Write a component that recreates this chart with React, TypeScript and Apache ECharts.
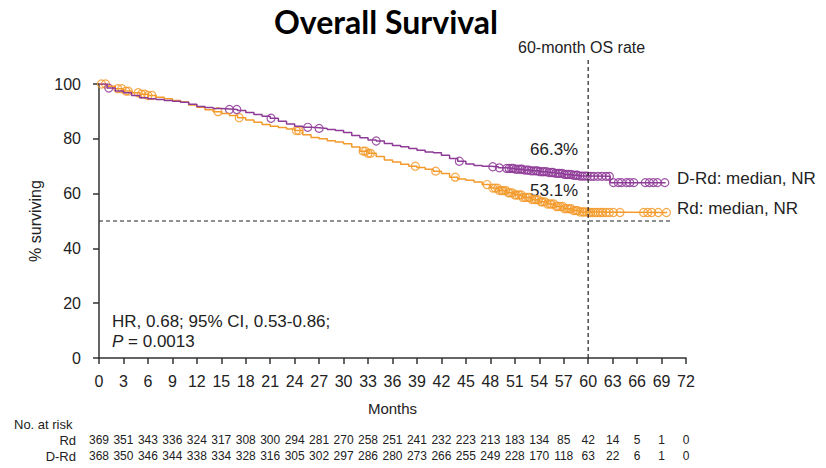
import React, { useEffect, useRef } from "react";
import * as echarts from "echarts";

// ---- Data ----
const rdTime = [0, 1, 2, 3, 4, 5, 6, 7, 8, 9, 10, 11, 12, 13, 14, 15, 16, 17, 18, 19, 20, 21, 22, 23, 24, 25, 26, 27, 28, 29, 30, 31, 32, 33, 34, 35, 36, 37, 38, 39, 40, 41, 42, 43, 44, 45, 46, 47, 48, 49, 50, 51, 52, 53, 54, 55, 56, 57, 58, 59, 60, 69.7];
const rdSurv = [100, 99.2, 98.3, 97.4, 96.8, 96.3, 95.8, 95.2, 94.6, 94.0, 93.4, 92.3, 91.5, 90.6, 89.9, 89.2, 88.5, 87.7, 86.9, 86.0, 85.2, 84.6, 84.1, 83.6, 83.0, 81.5, 80.5, 80.0, 79.3, 78.8, 78.2, 77.0, 75.5, 74.7, 73.5, 72.3, 71.5, 70.7, 70.0, 69.5, 68.9, 68.2, 67.3, 66.0, 65.3, 64.9, 64.2, 63.3, 62.0, 61.1, 60.3, 59.5, 58.6, 57.8, 57.0, 56.2, 55.3, 54.5, 53.8, 53.3, 53.1, 53.1];

const drdTime = [0, 1, 2, 3, 4, 5, 6, 7, 8, 9, 10, 11, 12, 13, 14, 15, 16, 17, 18, 19, 20, 21, 22, 23, 24, 25, 26, 27, 28, 29, 30, 31, 32, 33, 34, 35, 36, 37, 38, 39, 40, 41, 42, 43, 44, 45, 46, 47, 48, 49, 50, 51, 52, 53, 54, 55, 56, 57, 58, 59, 60, 62.7, 69.5];
const drdSurv = [100, 98.5, 97.4, 96.8, 95.8, 95.0, 94.6, 94.3, 94.0, 93.7, 93.3, 92.6, 91.8, 91.4, 91.1, 90.9, 90.7, 90.3, 89.6, 88.9, 88.2, 87.5, 86.4, 85.4, 84.6, 84.2, 84.0, 83.8, 83.4, 83.0, 82.3, 81.2, 80.4, 79.6, 79.2, 78.3, 77.6, 77.1, 76.5, 75.8, 75.2, 74.9, 74.0, 72.8, 71.8, 70.8, 70.3, 70.0, 69.8, 69.4, 69.2, 68.9, 68.6, 68.3, 68.0, 67.7, 67.4, 67.0, 66.7, 66.4, 66.3, 64.0, 64.0];

const rdCensor = [0.3, 0.8, 2.3, 2.8, 3.3, 3.6, 4.8, 5.2, 5.6, 6.0, 6.5, 14.6, 17.2, 24.2, 24.5, 32.4, 32.7, 33.0, 33.3, 38.8, 41.3, 43.7, 47.6, 48.3, 48.6, 48.9, 49.1, 49.4, 49.6, 49.9, 50.2, 50.4, 50.7, 51.0, 51.2, 51.5, 51.8, 52.0, 52.3, 52.6, 52.8, 53.1, 53.4, 53.6, 53.9, 54.2, 54.4, 54.7, 55.0, 55.3, 55.5, 55.8, 56.1, 56.3, 56.6, 56.9, 57.1, 57.4, 57.7, 57.9, 58.2, 58.5, 58.7, 59.0, 59.3, 59.5, 59.8, 60.1, 60.3, 60.6, 60.9, 61.2, 61.5, 61.8, 62.2, 62.6, 63.1, 63.9, 66.8, 67.3, 67.8, 68.6, 69.6];
const drdCensor = [1.2, 16.0, 16.9, 21.1, 25.6, 27.0, 34.0, 44.2, 48.3, 49.1, 50.0, 50.3, 50.6, 50.8, 51.1, 51.4, 51.7, 51.9, 52.2, 52.5, 52.7, 53.0, 53.3, 53.6, 53.8, 54.1, 54.4, 54.6, 54.9, 55.2, 55.5, 55.7, 56.0, 56.3, 56.5, 56.8, 57.1, 57.4, 57.6, 57.9, 58.2, 58.5, 58.7, 59.0, 59.3, 59.6, 59.9, 60.3, 60.7, 61.2, 61.7, 62.2, 62.6, 63.1, 63.7, 64.1, 64.7, 65.1, 65.6, 67.0, 67.5, 68.0, 68.5, 69.4];

const rdAtRisk = [369, 351, 343, 336, 324, 317, 308, 300, 294, 281, 270, 258, 251, 241, 232, 223, 213, 183, 134, 85, 42, 14, 5, 1, 0];
const drdAtRisk = [368, 350, 346, 344, 338, 334, 328, 316, 305, 302, 297, 286, 280, 273, 266, 255, 249, 228, 170, 118, 63, 22, 6, 1, 0];

const osMonth = 60;
const medianLine = 50;
const medianLineEnd = 70.4;
const osLineTop = 109;

const ORANGE = "#F39A2B";
const PURPLE = "#8E3A97";
const FONT = "'Liberation Sans', Arial, sans-serif";

function survAt(times: number[], surv: number[], t: number) {
  let v = surv[0];
  for (let i = 0; i < times.length; i++) {
    if (times[i] <= t) v = surv[i];
  }
  return v;
}

export default function App() {
  const ref = useRef<HTMLDivElement>(null);
  useEffect(() => {
    if (!ref.current) return;
    const chart = echarts.init(ref.current, null, { renderer: "svg" });
    const atRiskAxis = (arr: number[], offset: number) => ({
      type: "value",
      gridIndex: 0,
      position: "bottom",
      offset,
      min: 0,
      max: 72,
      interval: 3,
      axisLine: { show: false },
      axisTick: { show: false },
      splitLine: { show: false },
      axisLabel: {
        margin: 0,
        fontSize: 12,
        color: "#222",
        fontFamily: FONT,
        formatter: (v: number) => String(arr[Math.round(v / 3)]),
      },
    });
    const option: any = {
      animation: false,
      title: {
        text: "Overall Survival",
        left: 381,
        top: 0,
        textAlign: "center",
        textStyle: { fontFamily: "Lato, 'Open Sans', sans-serif", fontWeight: "bold", fontSize: 32, color: "#000" },
      },
      grid: { left: 99, right: 140, top: 84, bottom: 110, containLabel: false },
      xAxis: [
        {
          type: "value",
          min: 0,
          max: 72,
          interval: 3,
          name: "Months",
          nameLocation: "middle",
          nameGap: 43,
          nameTextStyle: { fontSize: 15, color: "#222", fontFamily: FONT },
          axisLine: { lineStyle: { color: "#333", width: 1.5 } },
          axisTick: { length: 6, lineStyle: { color: "#333", width: 1.5 } },
          splitLine: { show: false },
          axisLabel: { fontSize: 16, color: "#222", margin: 15, fontFamily: FONT },
        },
        atRiskAxis(rdAtRisk, 76),
        atRiskAxis(drdAtRisk, 92),
      ],
      yAxis: {
        type: "value",
        min: 0,
        max: 100,
        interval: 20,
        name: "% surviving",
        nameLocation: "middle",
        nameGap: 56,
        nameTextStyle: { fontSize: 16, color: "#222", fontFamily: FONT },
        axisLine: { show: true, lineStyle: { color: "#333", width: 1.5 } },
        axisTick: { show: true, length: 6, lineStyle: { color: "#333", width: 1.5 } },
        splitLine: { show: false },
        axisLabel: { fontSize: 16, color: "#222", margin: 18, fontFamily: FONT },
      },
      series: [
        {
          name: "Rd",
          type: "line",
          step: "end",
          symbol: "none",
          data: rdTime.map((t, i) => [t, rdSurv[i]]),
          lineStyle: { color: ORANGE, width: 1.5 },
        },
        {
          name: "D-Rd",
          type: "line",
          step: "end",
          symbol: "none",
          data: drdTime.map((t, i) => [t, drdSurv[i]]),
          lineStyle: { color: PURPLE, width: 1.5 },
        },
        {
          name: "Rd censored",
          type: "scatter",
          symbol: "circle",
          symbolSize: 8,
          data: rdCensor.map((t) => [t, survAt(rdTime, rdSurv, t)]),
          itemStyle: { color: "rgba(255,255,255,0)", borderColor: ORANGE, borderWidth: 1.2, opacity: 0.85 },
        },
        {
          name: "D-Rd censored",
          type: "scatter",
          symbol: "circle",
          symbolSize: 8,
          data: drdCensor.map((t) => [t, survAt(drdTime, drdSurv, t)]),
          itemStyle: { color: "rgba(255,255,255,0)", borderColor: PURPLE, borderWidth: 1.2, opacity: 0.85 },
        },
      ],
    };
    chart.setOption(option);

    const p0 = chart.convertToPixel({ gridIndex: 0 }, [0, medianLine]);
    const p1 = chart.convertToPixel({ gridIndex: 0 }, [medianLineEnd, medianLine]);
    const q0 = chart.convertToPixel({ gridIndex: 0 }, [osMonth, 0]);
    const q1 = chart.convertToPixel({ gridIndex: 0 }, [osMonth, osLineTop]);
    const dash = { stroke: "#222", lineWidth: 1.2, lineDash: [4, 3] };
    const txt = (text: string, x: number, y: number, size: number, align = "left", extra: any = {}) => ({
      type: "text",
      x,
      y,
      style: {
        text,
        fontSize: size,
        fontFamily: FONT,
        fill: "#222",
        textAlign: align,
        textVerticalAlign: "middle",
        ...extra,
      },
    });
    chart.setOption({
      graphic: [
        { type: "line", shape: { x1: p0[0], y1: p0[1], x2: p1[0], y2: p1[1] }, style: dash, z: 5 },
        { type: "line", shape: { x1: q0[0], y1: q0[1], x2: q1[0], y2: q1[1] }, style: dash, z: 5 },
        txt("60-month OS rate", 518, 47, 16),
        txt("66.3%", 530, 149, 17),
        txt("53.1%", 530, 190, 17),
        txt("D-Rd: median, NR", 677, 178, 17),
        txt("Rd: median, NR", 677, 208, 17),
        txt("HR, 0.68; 95% CI, 0.53-0.86;", 112, 321, 17),
        {
          type: "text",
          x: 112,
          y: 341,
          style: {
            text: "{i|P} = 0.0013",
            fontSize: 17,
            fontFamily: FONT,
            fill: "#222",
            textVerticalAlign: "middle",
            rich: { i: { fontStyle: "italic", fontSize: 17, fontFamily: FONT, fill: "#222" } },
          },
        },
        txt("No. at risk", 14, 424, 13),
        txt("Rd", 76, 440, 13, "right"),
        txt("D-Rd", 76, 456, 13, "right"),
      ],
    });
    return () => chart.dispose();
  }, []);
  return (
    <div
      ref={ref}
      style={{ position: "fixed", left: 0, top: 0, width: 826, height: 468, background: "#fff" }}
    />
  );
}
